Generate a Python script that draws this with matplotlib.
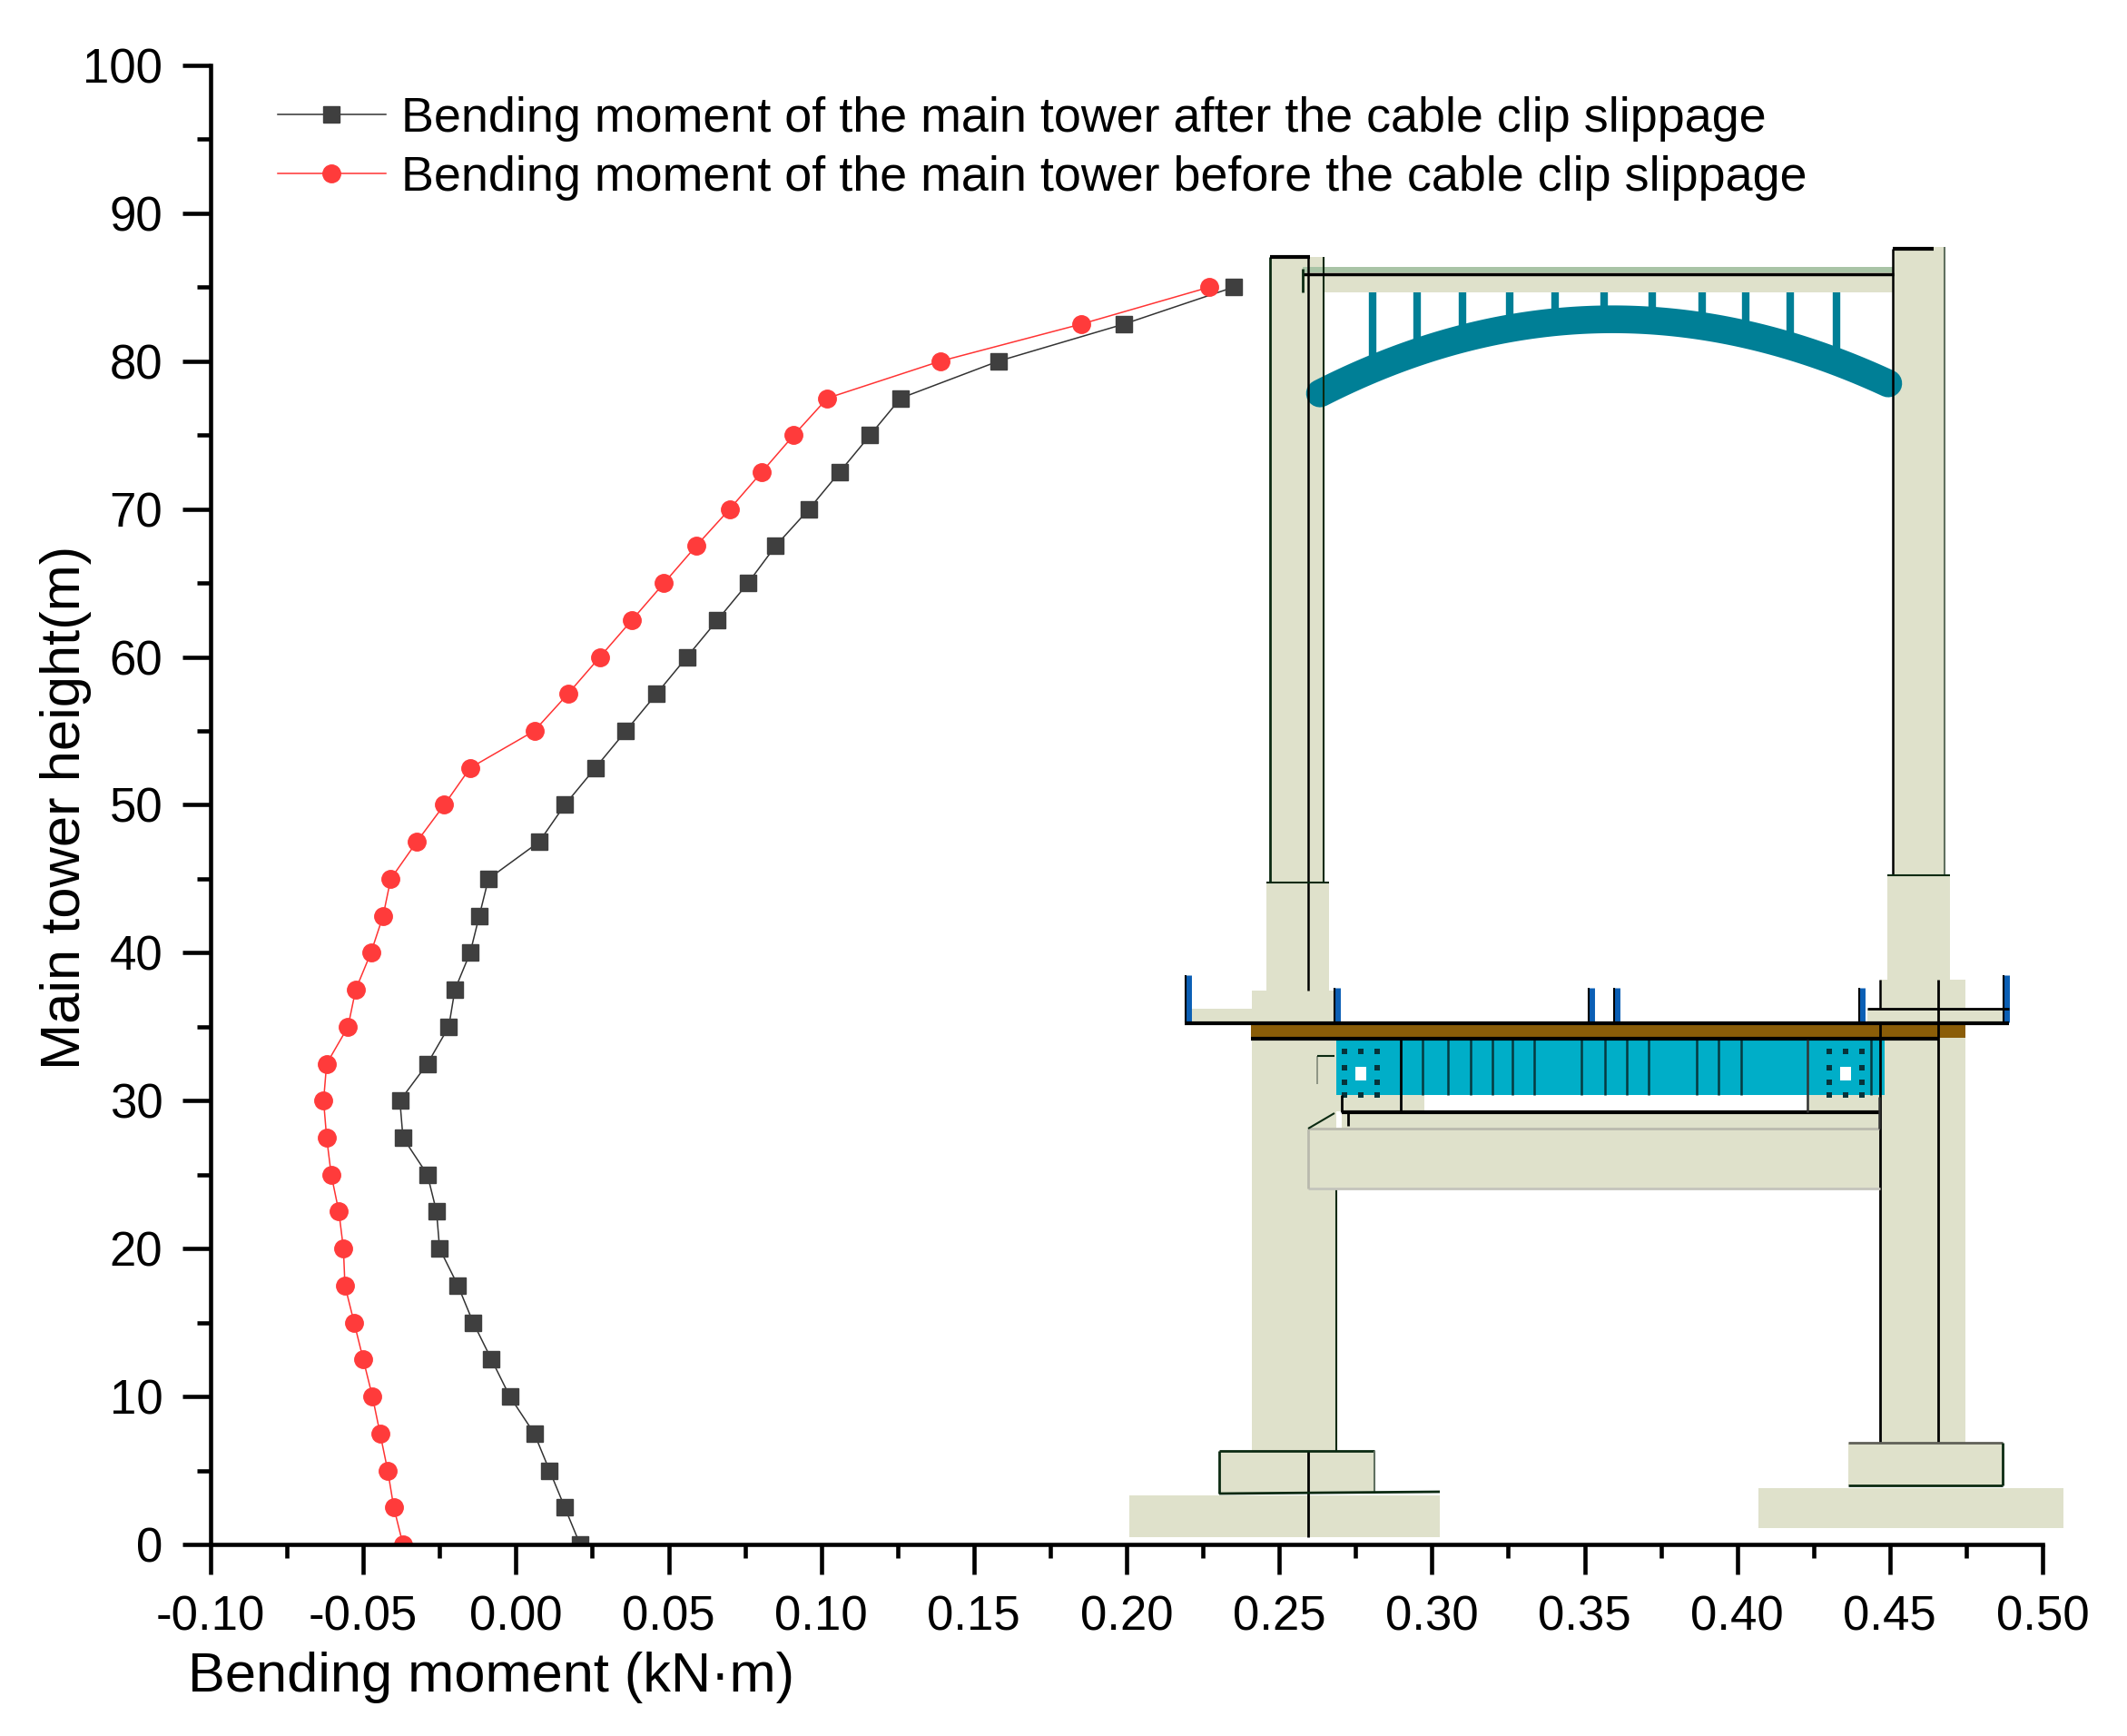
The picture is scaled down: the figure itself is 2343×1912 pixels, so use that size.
import numpy as np
import matplotlib
matplotlib.use("Agg")
import matplotlib.pyplot as plt
from matplotlib.patches import Rectangle

plt.rcParams['font.family'] = ['Liberation Sans', 'DejaVu Sans']

height = [0, 2.5, 5, 7.5, 10, 12.5, 15, 17.5, 20, 22.5, 25, 27.5, 30, 32.5, 35, 37.5, 40, 42.5,
          45, 47.5, 50, 52.5, 55, 57.5, 60, 62.5, 65, 67.5, 70, 72.5, 75, 77.5, 80, 82.5, 85]
after = [0.021, 0.016, 0.011, 0.006, -0.002, -0.008, -0.014, -0.019, -0.025, -0.026, -0.029,
         -0.037, -0.038, -0.029, -0.022, -0.020, -0.015, -0.012, -0.009, 0.0076, 0.016, 0.026,
         0.036, 0.046, 0.056, 0.066, 0.076, 0.085, 0.096, 0.106, 0.116, 0.126, 0.158, 0.199, 0.235]
before = [-0.037, -0.040, -0.042, -0.0445, -0.047, -0.050, -0.053, -0.056, -0.0565, -0.058, -0.0605,
          -0.062, -0.063, -0.062, -0.055, -0.0525, -0.0475, -0.0435, -0.041, -0.0325, -0.0235, -0.015,
          0.006, 0.017, 0.0275, 0.038, 0.0485, 0.059, 0.070, 0.0805, 0.091, 0.102, 0.139, 0.185, 0.227]
x_ticks = [-0.10, -0.05, 0.00, 0.05, 0.10, 0.15, 0.20, 0.25, 0.30, 0.35, 0.40, 0.45, 0.50]
y_ticks = [0, 10, 20, 30, 40, 50, 60, 70, 80, 90, 100]

W, H = 2343, 1912
fig = plt.figure(figsize=(W / 100, H / 100), dpi=100)

# bridge sketch behind the chart, in picture pixels
bg = fig.add_axes([0, 0, 1, 1])
bg.set_xlim(0, W)
bg.set_ylim(H, 0)
bg.axis("off")

BEIGE = "#dfe1cb"
CYAN = "#00aec8"
TEAL = "#007f96"
LINE = "#0b2a12"


def box(x0, y0, x1, y1, color=BEIGE, z=1):
    bg.add_patch(Rectangle((x0, y0), x1 - x0, y1 - y0, fc=color, ec="none", zorder=z))


def seg(x0, y0, x1, y1, color=LINE, lw=1.5, z=5):
    bg.plot([x0, x1], [y0, y1], color=color, lw=lw, zorder=z, solid_capstyle="butt")


# left tower
box(1399, 283, 1458, 972)
box(1395, 972, 1464, 1091)
box(1379, 1091, 1472, 1127)
box(1305, 1111, 1472, 1127)
box(1379, 1127, 1472, 1598)
box(1343, 1598, 1514, 1645)
box(1244, 1647, 1586, 1693)
seg(1399, 283, 1399, 972, lw=2)
seg(1399, 283, 1443, 283, "black", 3)
seg(1441, 283, 1441, 1091, "black", 1.8)
seg(1458, 283, 1458, 972)
seg(1395, 972, 1464, 972)
seg(1441, 1598, 1441, 1693, "black", 2)
seg(1472, 1309, 1472, 1598)
seg(1343, 1598, 1514, 1598, lw=2)
seg(1343, 1598, 1343, 1645, lw=2)
seg(1514, 1598, 1514, 1645, "#607060")
seg(1343, 1645, 1586, 1643, lw=2)

# right tower
box(2085, 272, 2142, 964)
box(2079, 964, 2148, 1079)
box(2071, 1079, 2165, 1127)
box(2057, 1111, 2213, 1127)
box(2071, 1127, 2165, 1589)
box(2036, 1589, 2206, 1636)
box(1937, 1639, 2273, 1683)
seg(2085, 274, 2085, 964, "black", 1.8)
seg(2142, 272, 2142, 964, "#607060", 1.5)
seg(2085, 274, 2130, 274, "black", 3)
seg(2079, 964, 2148, 964)
seg(2071, 1079, 2071, 1111, "black", 1.8)
seg(2135, 1079, 2135, 1589, "black", 2)
seg(2071, 1127, 2071, 1589, "black", 2)
seg(2057, 1111, 2213, 1111, "black", 2)
seg(2036, 1589, 2206, 1589, "#606058", 2)
seg(2036, 1636, 2206, 1636, lw=2)
seg(2206, 1589, 2206, 1636, lw=2)

# top beam, hangers and arch
box(1435, 296, 2086, 322)
box(1435, 294, 2086, 300, "#a9c4a6")
seg(1435, 302, 2086, 302, "black", 2.5)
seg(1435, 296, 1435, 322, lw=2)
hanger_x = [1512, 1561, 1611, 1663, 1713, 1767, 1820, 1875, 1923, 1972, 2023]
arch_cx = np.array([1446, 1512, 1575, 1685, 1774, 1874, 1977, 2084])
arch_cy = np.array([437, 407, 384, 357, 352, 359, 383, 424])
xs = np.linspace(1454, 2080, 120)
arch_fit = np.polyfit(arch_cx, arch_cy, 3)
for hx in hanger_x:
    seg(hx, 322, hx, np.polyval(arch_fit, hx), TEAL, 6, 3)
bg.plot(xs, np.polyval(arch_fit, xs), color=TEAL, lw=22, solid_capstyle="round", zorder=4)

# deck
box(1472, 1143, 2076, 1206, CYAN, 2)
box(1472, 1206, 1569, 1224)
box(1990, 1206, 2072, 1224)
box(1478, 1225, 2070, 1243)
box(1441, 1243, 2071, 1309)
box(1378, 1127, 2165, 1143, "#8a5d08", 3)
seg(1305, 1127, 2213, 1127, "black", 3)
seg(1378, 1144, 2135, 1144, "black", 3)
seg(1478, 1225, 2070, 1225, "black", 3)
seg(1441, 1243, 2070, 1243, "#b9b9ad", 2)
seg(1441, 1309, 2071, 1309, "#c4c4bc", 2)
seg(1441, 1243, 1441, 1309, "#b9b9ad", 2)
seg(1478, 1206, 1478, 1225, "black", 2)
seg(1485, 1225, 1485, 1240, "black", 2)
seg(1543, 1145, 1543, 1225, "black", 2)
seg(1991, 1145, 1991, 1225, "#333333", 1.8)
seg(2070, 1208, 2070, 1243, "#333333", 1.8)
seg(1451, 1163, 1451, 1194, "#808878", 1.2)
seg(1451, 1163, 1470, 1163, LINE, 1.5)
seg(1441, 1243, 1470, 1226, LINE, 1.5)
for zx in [497, 541, 580, 618, 652, 690, 772, 812, 850, 888, 970, 1008, 1047, 1272]:
    seg(1250 + zx / 1.568, 1145, 1250 + zx / 1.568, 1206, "#063a40", 1.8, 4)
for hole_x in (1499, 2033):
    box(hole_x - 6, 1175, hole_x + 6, 1190, "white", 4)
    for dx, dy in [(-18, -24), (0, -24), (18, -24), (-18, -6), (18, -6), (-18, 10), (18, 10),
                   (-18, 24), (0, 24), (18, 24)]:
        box(hole_x + dx - 3, 1182 + dy - 3, hole_x + dx + 3, 1182 + dy + 3, "#07333a", 4)

# posts on the deck
for px, top in [(1309, 1074), (1473, 1088), (1753, 1088), (1781, 1088), (2051, 1088), (2210, 1074)]:
    seg(px, top, px, 1126, "#0b5fb5", 5, 4)
    seg(px - 3, top, px - 3, 1126, "black", 1.5, 4)

# chart
ax = fig.add_axes([232 / W, 1 - 1701 / H, (2250 - 232) / W, (1701 - 72) / H])
ax.patch.set_visible(False)
ax.plot(after, height, color="#333333", lw=1.1, marker="s", ms=12.5, mfc="#3f3f3f", mec="#3f3f3f",
        label="Bending moment of the main tower after the cable clip slippage")
ax.plot(before, height, color="#ff3333", lw=1.1, marker="o", ms=14, mfc="#ff3b3b", mec="#ff3b3b",
        label="Bending moment of the main tower before the cable clip slippage")

ax.set_xlim(-0.10, 0.50)
ax.set_ylim(0, 100)
ax.set_xticks(x_ticks)
ax.set_xticklabels(["%.2f" % v for v in x_ticks])
ax.set_yticks(y_ticks)
ax.set_xticks(np.arange(-0.075, 0.5, 0.05), minor=True)
ax.set_yticks(np.arange(5, 100, 10), minor=True)
ax.spines["top"].set_visible(False)
ax.spines["right"].set_visible(False)
ax.spines["left"].set_linewidth(3.3)
ax.spines["bottom"].set_linewidth(3.3)
ax.tick_params(axis="x", which="major", length=24, width=3.3, labelsize=38, pad=16)
ax.tick_params(axis="y", which="major", length=22, width=3.3, labelsize=38, pad=16)
ax.tick_params(which="minor", length=11, width=3.3)

fig.text(207 / W, 1 - 1863 / H, "Bending moment (kN\u00b7m)", fontsize=44.2, va="baseline", ha="left")
fig.text(73 / W, 1 - 889 / H, "Main tower height(m)", fontsize=44.3, rotation=90, va="center", ha="center")

ax.legend(loc="upper left", bbox_to_anchor=(306 / W, 1 - 106 / H), bbox_transform=fig.transFigure,
          frameon=False, fontsize=38.8, borderpad=0, borderaxespad=0, handlelength=2.2,
          handletextpad=0.33, labelspacing=0.28, numpoints=1, markerscale=1.0)

fig.savefig("out.png", dpi=100)
